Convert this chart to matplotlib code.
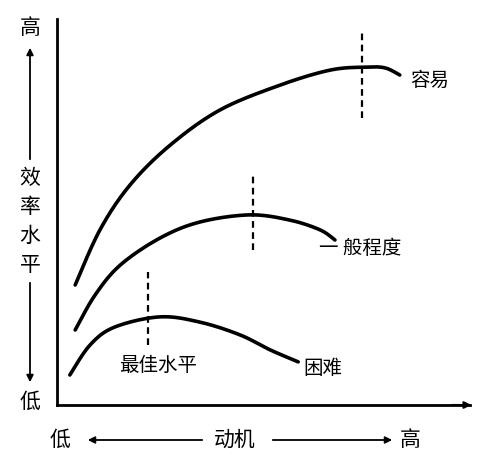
import matplotlib
matplotlib.use("Agg")
import matplotlib.pyplot as plt
import numpy as np

plt.rcParams['font.family'] = ['Noto Sans CJK SC', 'DejaVu Sans']

easy_x = [4.4, 10.4, 17.7, 27.4, 39.5, 54, 66.1, 74.6, 79.4, 83]
easy_y = [32, 46.7, 58.7, 69.3, 78.7, 85.3, 89.3, 90.1, 89.9, 88]
mid_x = [4.4, 9.2, 15.3, 24.9, 34.6, 46.7, 56.4, 63.7, 67.3]
mid_y = [20, 29.3, 37.3, 44.5, 48.8, 50.7, 49.3, 46.7, 44]
hard_x = [3.1, 8, 14, 24.9, 34.6, 44.3, 51.6, 58.4]
hard_y = [8, 16, 20.8, 23.5, 22.1, 18.7, 14.7, 11.5]
peaks_x = [73.8, 47.5, 22]
peaks_lo = [76.5, 41.3, 16]
peaks_hi = [99.5, 61.3, 35.5]

def smooth(xs, ys, n=20):
    # Catmull-Rom rendering through the read points (drawing only)
    p = np.column_stack([xs, ys]).astype(float)
    p = np.vstack([p[0], p, p[-1]])
    out = []
    t = np.linspace(0, 1, n, endpoint=False)[:, None]
    for i in range(1, len(p) - 2):
        p0, p1, p2, p3 = p[i-1], p[i], p[i+1], p[i+2]
        out.append(0.5*((2*p1) + (-p0+p2)*t + (2*p0-5*p1+4*p2-p3)*t**2 + (-p0+3*p1-3*p2+p3)*t**3))
    out.append(p[-2][None, :])
    a = np.vstack(out)
    return a[:, 0], a[:, 1]

W, H = 500, 469
fig = plt.figure(figsize=(5, 4.69), dpi=100)
ax = fig.add_axes([57/W, 1-405/H, 413/W, 375/H])
ax.set_xlim(0, 100); ax.set_ylim(0, 100)
for s in ['top', 'right']:
    ax.spines[s].set_visible(False)
for s in ['left', 'bottom']:
    ax.spines[s].set_linewidth(2)
ax.spines['left'].set_bounds(0, 103)
ax.set_xticks([]); ax.set_yticks([])
ax.annotate('', xy=(101, 0), xytext=(95, 0), annotation_clip=False,
            arrowprops=dict(arrowstyle='-|>', color='black', lw=1.5))

kw = dict(color='black', lw=2.6, solid_capstyle='round', clip_on=False)
for xs, ys in [(easy_x, easy_y), (mid_x, mid_y), (hard_x, hard_y)]:
    sx, sy = smooth(xs, ys)
    ax.plot(sx, sy, **kw)
for x, lo, hi in zip(peaks_x, peaks_lo, peaks_hi):
    ax.plot([x, x], [lo, hi], color='black', lw=1.6, ls=(0, (3, 2)), clip_on=False)

def t(px, py, s, size=14, **k):
    fig.text(px/W, 1-py/H, s, fontsize=size, ha='center', va='center', **k)

t(430, 80, '容易')
t(360, 248, '一 般程度')
t(158, 365, '最佳水平')
t(323, 368, '困难')
t(30, 28, '高', 15)
t(30, 402, '低', 15)
for i, ch in enumerate('效率水平'):
    t(30, 178 + i*29, ch, 15)
t(60, 440, '低', 15)
t(235, 440, '动机', 15)
t(410, 440, '高', 15)

fa = fig.add_axes([0, 0, 1, 1]); fa.set_xlim(0, W); fa.set_ylim(H, 0); fa.axis('off')
ap = dict(arrowstyle='-|>', color='black', lw=1.3)
fa.annotate('', xy=(30, 45), xytext=(30, 162), arrowprops=ap)
fa.annotate('', xy=(30, 385), xytext=(30, 280), arrowprops=ap)
fa.annotate('', xy=(85, 440), xytext=(205, 440), arrowprops=ap)
fa.annotate('', xy=(395, 440), xytext=(270, 440), arrowprops=ap)

fig.savefig('out.png', dpi=100)
